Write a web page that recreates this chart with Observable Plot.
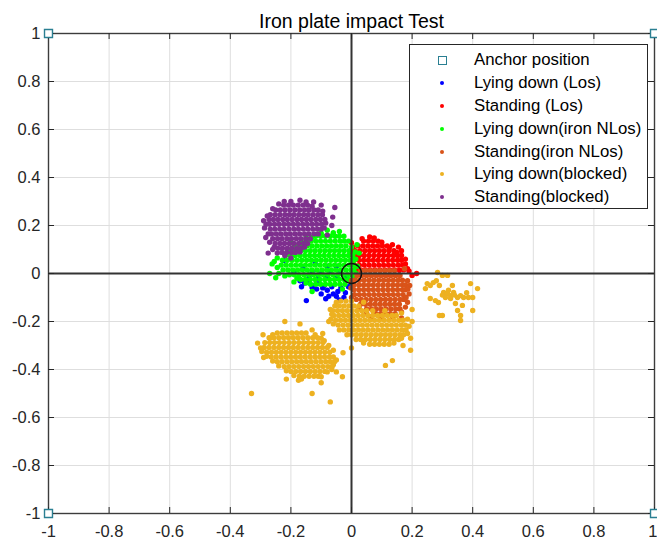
<!DOCTYPE html>
<html>
<head>
<meta charset="utf-8">
<script src="https://cdn.jsdelivr.net/npm/d3@7"></script>
<script src="https://cdn.jsdelivr.net/npm/@observablehq/plot@0.6"></script>
<style>
  body { margin: 0; background: #fff; }
  #chart { position: relative; width: 657px; height: 545px; font-family: "Liberation Sans", Arial, Helvetica, sans-serif; }
  #legend { position: absolute; left: 409px; top: 44px; width: 239px; height: 165px; box-sizing: border-box;
            border: 1px solid #262626; background: #fff; padding-top: 4px; }
  .row { height: 22.8px; display: flex; align-items: center; font-size: 16.8px; color: #000; white-space: nowrap; }
  .mk { width: 64px; display: flex; justify-content: center; align-items: center; }
</style>
</head>
<body>
<div id="chart"><div id="legend"></div></div>
<script>
const titleText = "Iron plate impact Test";

const xTicks = [-1, -0.8, -0.6, -0.4, -0.2, 0, 0.2, 0.4, 0.6, 0.8, 1];
const xTickLabels = ["-1", "-0.8", "-0.6", "-0.4", "-0.2", "0", "0.2", "0.4", "0.6", "0.8", "1"];
const yTicks = [-1, -0.8, -0.6, -0.4, -0.2, 0, 0.2, 0.4, 0.6, 0.8, 1];
const yTickLabels = ["-1", "-0.8", "-0.6", "-0.4", "-0.2", "0", "0.2", "0.4", "0.6", "0.8", "1"];

// Anchors at the four corners of the test area
const anchorX = [-1, 1, -1, 1];
const anchorY = [1, 1, -1, -1];
const origin = [[0, 0]];
const crossAt = [0];

const seriesNames = ["Anchor position", "Lying down (Los)", "Standing (Los)", "Lying down(iron NLos)",
  "Standing(iron NLos)", "Lying down(blocked)", "Standing(blocked)"];
const seriesColors = ["#2a7f92", "#0000ff", "#ff0000", "#00ff00", "#d95319", "#edb120", "#7e2f8e"];

// Measured positions, one list per test condition
const lyingLos = [
  [-.16,.02],[-.13,.01],[-.1,0],[-.07,.01],[-.04,0],[-.12,.04],[-.08,.03],[-.05,.03],[-.14,-.01],[-.11,-.02],
  [-.08,-.015],[-.05,-.02],[-.02,-.01],
  [-.224,.054],[-.19,.004],[-.17,-.03],[-.155,-.04],[-.14,-.032],[-.125,-.05],[-.11,-.042],[-.095,-.06],
  [-.08,-.07],[-.065,-.055],[-.06,-.085],[-.045,-.075],[-.035,-.06],[-.02,-.08],[-.149,-.113],[-.1,-.085],
  [-.075,-.095],[-.01,-.055],[-.025,-.1],[-.05,-.095],[-.115,-.065],[-.09,-.05],[-.13,-.058],[0,-.04],
  [-.165,-.055],[-.085,-.105],[-.04,-.11]
];

const standingLos = [
  [.04,.135],[.056,.135],[.072,.135],[.088,.135],
  [.022,.115],[.038,.115],[.054,.115],[.07,.115],[.086,.115],[.102,.115],[.118,.115],
  [.012,.095],[.028,.095],[.044,.095],[.06,.095],[.076,.095],[.092,.095],[.108,.095],[.124,.095],[.14,.095],
  [.01,.075],[.026,.075],[.042,.075],[.058,.075],[.074,.075],[.09,.075],[.106,.075],[.122,.075],[.138,.075],[.152,.075],
  [.008,.055],[.024,.055],[.04,.055],[.056,.055],[.072,.055],[.088,.055],[.104,.055],[.12,.055],[.136,.055],[.152,.055],[.165,.055],
  [.01,.035],[.026,.035],[.042,.035],[.058,.035],[.074,.035],[.09,.035],[.106,.035],[.122,.035],[.138,.035],[.154,.035],[.168,.035],
  [.014,.015],[.03,.015],[.046,.015],[.062,.015],[.078,.015],[.094,.015],[.11,.015],[.126,.015],[.142,.015],[.158,.015],[.172,.015],
  [.03,-.005],[.046,-.005],[.062,-.005],[.078,-.005],[.094,-.005],[.11,-.005],[.126,-.005],[.142,-.005],[.158,-.005],
  [.19,.01],[.215,0],[.2,-.008],[0,.128],[.135,.12],[.178,.06],[.06,.152],[.165,.095],[.155,.11],
  [.035,.145],[.075,.148],[.1,.13],[.125,.108],[.15,.088],[.165,.075],[.178,.04],[.185,.02],[.005,.11],[.002,.09]
];

const lyingIronNLos = [
  [-.118,.155],[-.102,.155],[-.086,.155],[-.07,.155],[-.054,.155],[-.04,.155],
  [-.15,.135],[-.134,.135],[-.118,.135],[-.102,.135],[-.086,.135],[-.07,.135],[-.054,.135],[-.038,.135],[-.024,.135],
  [-.178,.115],[-.162,.115],[-.146,.115],[-.13,.115],[-.114,.115],[-.098,.115],[-.082,.115],[-.066,.115],[-.05,.115],[-.034,.115],[-.018,.115],
  [-.2,.095],[-.184,.095],[-.168,.095],[-.152,.095],[-.136,.095],[-.12,.095],[-.104,.095],[-.088,.095],[-.072,.095],[-.056,.095],[-.04,.095],[-.024,.095],[-.008,.095],
  [-.218,.075],[-.202,.075],[-.186,.075],[-.17,.075],[-.154,.075],[-.138,.075],[-.122,.075],[-.106,.075],[-.09,.075],[-.074,.075],[-.058,.075],[-.042,.075],[-.026,.075],[-.01,.075],[.004,.075],
  [-.228,.055],[-.212,.055],[-.196,.055],[-.18,.055],[-.164,.055],[-.148,.055],[-.132,.055],[-.116,.055],[-.1,.055],[-.084,.055],[-.068,.055],[-.052,.055],[-.036,.055],[-.02,.055],[-.004,.055],[.008,.055],
  [-.232,.035],[-.216,.035],[-.2,.035],[-.184,.035],[-.168,.035],[-.152,.035],[-.136,.035],[-.12,.035],[-.104,.035],[-.088,.035],[-.072,.035],[-.056,.035],[-.04,.035],[-.024,.035],[-.008,.035],[.006,.035],
  [-.226,.015],[-.21,.015],[-.194,.015],[-.178,.015],[-.162,.015],[-.146,.015],[-.13,.015],[-.114,.015],[-.098,.015],[-.082,.015],[-.066,.015],[-.05,.015],[-.034,.015],[-.018,.015],[-.002,.015],[.008,.015],
  [-.205,-.005],[-.189,-.005],[-.173,-.005],[-.157,-.005],[-.141,-.005],[-.125,-.005],[-.109,-.005],[-.093,-.005],[-.077,-.005],[-.061,-.005],[-.045,-.005],[-.029,-.005],[-.013,-.005],[0,-.005],
  [-.168,-.025],[-.152,-.025],[-.136,-.025],[-.12,-.025],[-.104,-.025],[-.088,-.025],[-.072,-.025],[-.056,-.025],[-.04,-.025],[-.024,-.025],[-.01,-.025],
  [-.118,-.045],[-.102,-.045],[-.086,-.045],[-.07,-.045],[-.054,-.045],[-.038,-.045],[-.022,-.045],
  [-.262,.04],[-.27,0],[-.25,-.018],[-.245,.065],[-.08,.18],[-.15,.158],[-.04,.175],[.018,.12],[.025,.085],
  [-.19,-.035],[-.13,-.075],[-.2,.13],[-.03,-.065],[.02,.03],
  [-.255,.05],[-.245,.025],[-.24,0],[-.22,-.01],[-.21,.09],[-.19,.11],[-.165,.13],[-.13,.15],[-.1,.168],[-.06,.17],
  [-.025,.155],[-.01,.135],[0,.11],[.012,.09],[.014,.06],[.015,0],[.01,-.02],[0,-.035],[-.15,-.04],[-.135,-.045],[-.18,-.02]
];

const standingIronNLos = [
  [.03,.012],[.046,.012],[.062,.012],[.078,.012],[.094,.012],[.11,.012],[.126,.012],[.142,.012],
  [.018,-.008],[.034,-.008],[.05,-.008],[.066,-.008],[.082,-.008],[.098,-.008],[.114,-.008],[.13,-.008],[.146,-.008],[.16,-.008],
  [.01,-.028],[.026,-.028],[.042,-.028],[.058,-.028],[.074,-.028],[.09,-.028],[.106,-.028],[.122,-.028],[.138,-.028],[.154,-.028],[.168,-.028],
  [.008,-.048],[.024,-.048],[.04,-.048],[.056,-.048],[.072,-.048],[.088,-.048],[.104,-.048],[.12,-.048],[.136,-.048],[.152,-.048],[.168,-.048],[.178,-.048],
  [.008,-.068],[.024,-.068],[.04,-.068],[.056,-.068],[.072,-.068],[.088,-.068],[.104,-.068],[.12,-.068],[.136,-.068],[.152,-.068],[.168,-.068],[.178,-.068],
  [.01,-.088],[.026,-.088],[.042,-.088],[.058,-.088],[.074,-.088],[.09,-.088],[.106,-.088],[.122,-.088],[.138,-.088],[.154,-.088],[.17,-.088],
  [.016,-.108],[.032,-.108],[.048,-.108],[.064,-.108],[.08,-.108],[.096,-.108],[.112,-.108],[.128,-.108],[.144,-.108],[.16,-.108],[.172,-.108],
  [.03,-.128],[.046,-.128],[.062,-.128],[.078,-.128],[.094,-.128],[.11,-.128],[.126,-.128],[.142,-.128],[.158,-.128],
  [.05,-.148],[.066,-.148],[.082,-.148],[.098,-.148],[.114,-.148],[.13,-.148],[.146,-.148],[.16,-.148],
  [.08,-.168],[.096,-.168],[.112,-.168],[.128,-.168],[.144,-.168],
  [.192,-.05],[.185,-.12],[0,-.1],[.165,-.185],[.19,-.085],[.175,.02],
  [0,-.03],[-.002,-.06],[.185,-.03],[.186,-.065],[.18,-.1],[.178,-.14],[.165,-.16],[.05,-.165],[.065,-.18],
  [.1,-.185],[.135,-.18],[.025,-.145]
];

const lyingBlocked = [
  // cluster just below the origin
  [-.035,-.115],[-.018,-.115],[0,-.115],
  [-.055,-.135],[-.04,-.135],[-.024,-.135],[-.008,-.135],[.008,-.135],[.024,-.135],
  [-.062,-.155],[-.046,-.155],[-.03,-.155],[-.014,-.155],[.002,-.155],[.018,-.155],[.034,-.155],[.05,-.155],[.07,-.155],[.11,-.155],
  [-.058,-.175],[-.042,-.175],[-.026,-.175],[-.01,-.175],[.006,-.175],[.022,-.175],[.038,-.175],[.054,-.175],[.07,-.175],[.086,-.175],[.102,-.175],[.118,-.175],[.134,-.175],[.148,-.175],
  [-.052,-.195],[-.036,-.195],[-.02,-.195],[-.004,-.195],[.012,-.195],[.028,-.195],[.044,-.195],[.06,-.195],[.076,-.195],[.092,-.195],[.108,-.195],[.124,-.195],[.14,-.195],[.156,-.195],[.17,-.195],
  [-.044,-.215],[-.028,-.215],[-.012,-.215],[.004,-.215],[.02,-.215],[.036,-.215],[.052,-.215],[.068,-.215],[.084,-.215],[.1,-.215],[.116,-.215],[.132,-.215],[.148,-.215],[.164,-.215],[.178,-.215],
  [-.025,-.235],[-.009,-.235],[.007,-.235],[.023,-.235],[.039,-.235],[.055,-.235],[.071,-.235],[.087,-.235],[.103,-.235],[.119,-.235],[.135,-.235],[.151,-.235],[.167,-.235],[.18,-.235],
  [0,-.255],[.016,-.255],[.032,-.255],[.048,-.255],[.064,-.255],[.08,-.255],[.096,-.255],[.112,-.255],[.128,-.255],[.144,-.255],[.16,-.255],[.172,-.255],
  [.03,-.275],[.046,-.275],[.062,-.275],[.078,-.275],[.094,-.275],[.11,-.275],[.126,-.275],[.142,-.275],[.156,-.275],
  [.06,-.295],[.076,-.295],[.092,-.295],[.108,-.295],[.124,-.295],
  [.112,-.383],[.135,-.363],[.195,-.32],[-.075,-.2],[.2,-.15],[.195,-.27],[.17,-.3],[-.07,-.15],[0,-.31],[.2,-.2],
  [-.065,-.17],[-.068,-.19],[-.06,-.21],[-.04,-.235],[-.015,-.255],[.015,-.275],[.04,-.29],[.14,-.29],[.165,-.27],
  [.185,-.25],[.19,-.22],[.185,-.19],[.165,-.165],[.04,-.12],[-.05,-.12],
  // cluster lower left
  [-.245,-.248],[-.229,-.248],[-.213,-.248],[-.197,-.248],[-.181,-.248],[-.165,-.248],[-.15,-.248],
  [-.272,-.268],[-.256,-.268],[-.24,-.268],[-.224,-.268],[-.208,-.268],[-.192,-.268],[-.176,-.268],[-.16,-.268],[-.144,-.268],[-.128,-.268],[-.112,-.268],
  [-.286,-.288],[-.27,-.288],[-.254,-.288],[-.238,-.288],[-.222,-.288],[-.206,-.288],[-.19,-.288],[-.174,-.288],[-.158,-.288],[-.142,-.288],[-.126,-.288],[-.11,-.288],[-.094,-.288],
  [-.288,-.308],[-.272,-.308],[-.256,-.308],[-.24,-.308],[-.224,-.308],[-.208,-.308],[-.192,-.308],[-.176,-.308],[-.16,-.308],[-.144,-.308],[-.128,-.308],[-.112,-.308],[-.096,-.308],[-.08,-.308],
  [-.28,-.328],[-.264,-.328],[-.248,-.328],[-.232,-.328],[-.216,-.328],[-.2,-.328],[-.184,-.328],[-.168,-.328],[-.152,-.328],[-.136,-.328],[-.12,-.328],[-.104,-.328],[-.088,-.328],[-.072,-.328],
  [-.265,-.348],[-.249,-.348],[-.233,-.348],[-.217,-.348],[-.201,-.348],[-.185,-.348],[-.169,-.348],[-.153,-.348],[-.137,-.348],[-.121,-.348],[-.105,-.348],[-.089,-.348],[-.073,-.348],[-.06,-.348],
  [-.245,-.368],[-.229,-.368],[-.213,-.368],[-.197,-.368],[-.181,-.368],[-.165,-.368],[-.149,-.368],[-.133,-.368],[-.117,-.368],[-.101,-.368],[-.085,-.368],[-.07,-.368],[-.056,-.368],
  [-.222,-.388],[-.206,-.388],[-.19,-.388],[-.174,-.388],[-.158,-.388],[-.142,-.388],[-.126,-.388],[-.11,-.388],[-.094,-.388],[-.078,-.388],[-.064,-.388],
  [-.2,-.408],[-.184,-.408],[-.168,-.408],[-.152,-.408],[-.136,-.408],[-.12,-.408],[-.104,-.408],[-.088,-.408],
  [-.172,-.428],[-.156,-.428],[-.14,-.428],[-.124,-.428],[-.11,-.428],
  [-.31,-.29],[-.292,-.255],[-.22,-.2],[-.17,-.21],[-.13,-.235],[-.095,-.25],[-.09,-.28],[-.028,-.33],[-.05,-.41],
  [-.03,-.43],[-.1,-.455],[-.13,-.5],[-.175,-.445],[-.33,-.5],[-.07,-.535],[-.215,-.44],[-.29,-.35],[-.06,-.38],
  [-.3,-.31],[-.296,-.325],[-.28,-.345],[-.26,-.365],[-.24,-.385],[-.215,-.405],[-.19,-.425],[-.165,-.44],[-.1,-.43],
  [-.08,-.41],[-.065,-.4],[-.05,-.36],[-.06,-.32],[-.075,-.3],[-.1,-.27],[-.12,-.255],[-.26,-.255],[-.27,-.27],
  // sparse cluster to the right
  [.284,.004],[.3,-.008],[.317,-.008],[.25,-.042],[.26,-.05],[.244,-.063],[.27,-.038],[.333,-.05],[.393,-.042],
  [.416,-.063],[.304,-.079],[.317,-.083],[.327,-.092],[.337,-.079],[.35,-.1],[.36,-.092],[.37,-.1],[.386,-.1],
  [.26,-.104],[.277,-.113],[.287,-.121],[.343,-.125],[.366,-.133],[.35,-.154],[.36,-.175],[.4,-.154],[.3,-.175],
  [.36,-.196],[.327,-.104],[.31,-.1],[.32,-.07],[.34,-.09],[.3,-.09],[.29,-.05],[.38,-.08],[.4,-.1],[.28,-.03],
  [.29,-.175]
];

const standingBlocked = [
  [-.224,.285],[-.208,.285],[-.192,.285],[-.176,.285],[-.16,.285],[-.145,.285],
  [-.25,.265],[-.235,.265],[-.219,.265],[-.203,.265],[-.187,.265],[-.171,.265],[-.155,.265],[-.14,.265],[-.124,.265],[-.11,.265],
  [-.268,.245],[-.252,.245],[-.236,.245],[-.22,.245],[-.205,.245],[-.19,.245],[-.174,.245],[-.158,.245],[-.143,.245],[-.127,.245],[-.111,.245],[-.096,.245],
  [-.272,.225],[-.258,.225],[-.243,.225],[-.227,.225],[-.212,.225],[-.196,.225],[-.18,.225],[-.165,.225],[-.149,.225],[-.134,.225],[-.118,.225],[-.103,.225],[-.088,.225],
  [-.27,.205],[-.254,.205],[-.239,.205],[-.223,.205],[-.208,.205],[-.192,.205],[-.177,.205],[-.161,.205],[-.146,.205],[-.13,.205],[-.115,.205],[-.099,.205],
  [-.268,.185],[-.253,.185],[-.237,.185],[-.222,.185],[-.206,.185],[-.19,.185],[-.175,.185],[-.159,.185],[-.144,.185],[-.128,.185],[-.113,.185],[-.1,.185],
  [-.264,.165],[-.248,.165],[-.233,.165],[-.217,.165],[-.202,.165],[-.186,.165],[-.171,.165],[-.155,.165],[-.14,.165],[-.124,.165],[-.11,.165],
  [-.26,.145],[-.244,.145],[-.229,.145],[-.213,.145],[-.198,.145],[-.182,.145],[-.167,.145],[-.151,.145],[-.136,.145],
  [-.252,.125],[-.236,.125],[-.221,.125],[-.205,.125],[-.19,.125],[-.174,.125],[-.158,.125],[-.145,.125],
  [-.243,.105],[-.228,.105],[-.212,.105],[-.197,.105],[-.181,.105],[-.166,.105],
  [-.23,.088],[-.214,.088],[-.198,.088],[-.185,.088],
  [-.29,.22],[-.283,.15],[-.275,.085],[-.222,.3],[-.125,.298],[-.055,.275],[-.062,.235],[-.065,.2],[-.08,.16],
  [-.2,.065],[-.255,.11],[-.287,.19],[-.17,.305],[-.1,.285],
  [-.282,.205],[-.278,.24],[-.26,.27],[-.24,.29],[-.2,.3],[-.15,.298],[-.13,.28],[-.095,.26],[-.085,.21],[-.09,.19],
  [-.275,.165],[-.27,.13],[-.26,.1],[-.245,.085],[-.22,.075],[-.17,.09],[-.155,.11]
];

const pointSeries = [lyingLos, standingLos, lyingIronNLos, standingIronNLos, lyingBlocked, standingBlocked];

// Layout
const W = 657, H = 545;
const mLeft = 48, mRight = 3, mTop = 33, mBottom = 32;
const innerW = W - mLeft - mRight, innerH = H - mTop - mBottom;
const tickLen = 6;
const ink = "#262626";
const tickFont = 16.5;

const xLabel = new Map(xTicks.map((t, i) => [t, xTickLabels[i]]));
const yLabel = new Map(yTicks.map((t, i) => [t, yTickLabels[i]]));
const xMax = xTicks[xTicks.length - 1];

const dotMarks = pointSeries.map((pts, i) =>
  Plot.dot(pts, {x: d => d[0], y: d => d[1], r: 2.7, fill: seriesColors[i + 1], stroke: null})
);

const chart = Plot.plot({
  width: W, height: H,
  marginLeft: mLeft, marginRight: mRight, marginTop: mTop, marginBottom: mBottom,
  style: {fontFamily: '"Liberation Sans", Arial, Helvetica, sans-serif', background: "#fff", color: ink},
  x: {domain: [-1, 1]},
  y: {domain: [-1, 1]},
  marks: [
    Plot.gridX(xTicks, {stroke: "#dedede", strokeOpacity: 1}),
    Plot.gridY(yTicks, {stroke: "#dedede", strokeOpacity: 1}),
    ...dotMarks,
    Plot.ruleX(crossAt, {stroke: "#333", strokeWidth: 2}),
    Plot.ruleY(crossAt, {stroke: "#333", strokeWidth: 2}),
    Plot.dot(origin, {x: d => d[0], y: d => d[1], r: 10, stroke: "#111", strokeWidth: 1.4, fill: "none"}),
    Plot.frame({stroke: "#3c3c3c", strokeWidth: 1.4}),
    Plot.tickX(xTicks, {x: d => d, insetTop: innerH - tickLen, stroke: ink}),
    Plot.tickX(xTicks, {x: d => d, insetBottom: innerH - tickLen, stroke: ink}),
    Plot.tickY(yTicks, {y: d => d, insetRight: innerW - tickLen, stroke: ink}),
    Plot.tickY(yTicks, {y: d => d, insetLeft: innerW - tickLen, stroke: ink}),
    Plot.axisX(xTicks.filter(t => t !== xMax), {anchor: "bottom", tickSize: 0, tickPadding: 12, fontSize: tickFont, fill: ink, tickFormat: d => xLabel.get(d)}),
    Plot.axisX([xMax], {anchor: "bottom", tickSize: 0, tickPadding: 12, fontSize: tickFont, fill: ink, textAnchor: "end", dx: 3, tickFormat: d => xLabel.get(d)}),
    Plot.axisY(yTicks, {anchor: "left", tickSize: 0, tickPadding: 8, fontSize: tickFont, fill: ink, tickFormat: d => yLabel.get(d)}),
    Plot.dot(anchorX.map((x, i) => [x, anchorY[i]]), {x: d => d[0], y: d => d[1], symbol: "square", r: 4.5, stroke: seriesColors[0], strokeWidth: 1.4, fill: "#fff"}),
    Plot.text([titleText], {text: d => d, frameAnchor: "top", dy: -19, fontSize: 19.5, fill: "#000"})
  ]
});

const host = document.getElementById("chart");
host.insertBefore(chart, host.firstChild);

// Legend
const legend = document.getElementById("legend");
seriesNames.forEach((name, i) => {
  const row = document.createElement("div");
  row.className = "row";
  const mk = document.createElement("div");
  mk.className = "mk";
  const sym = document.createElement("span");
  if (i === 0) {
    sym.style.cssText = `display:block;width:7px;height:7px;border:1.4px solid ${seriesColors[0]};`;
  } else {
    sym.style.cssText = `display:block;width:4px;height:4px;border-radius:50%;background:${seriesColors[i]};`;
  }
  mk.appendChild(sym);
  const label = document.createElement("span");
  label.textContent = name;
  row.appendChild(mk);
  row.appendChild(label);
  legend.appendChild(row);
});
</script>
</body>
</html>
